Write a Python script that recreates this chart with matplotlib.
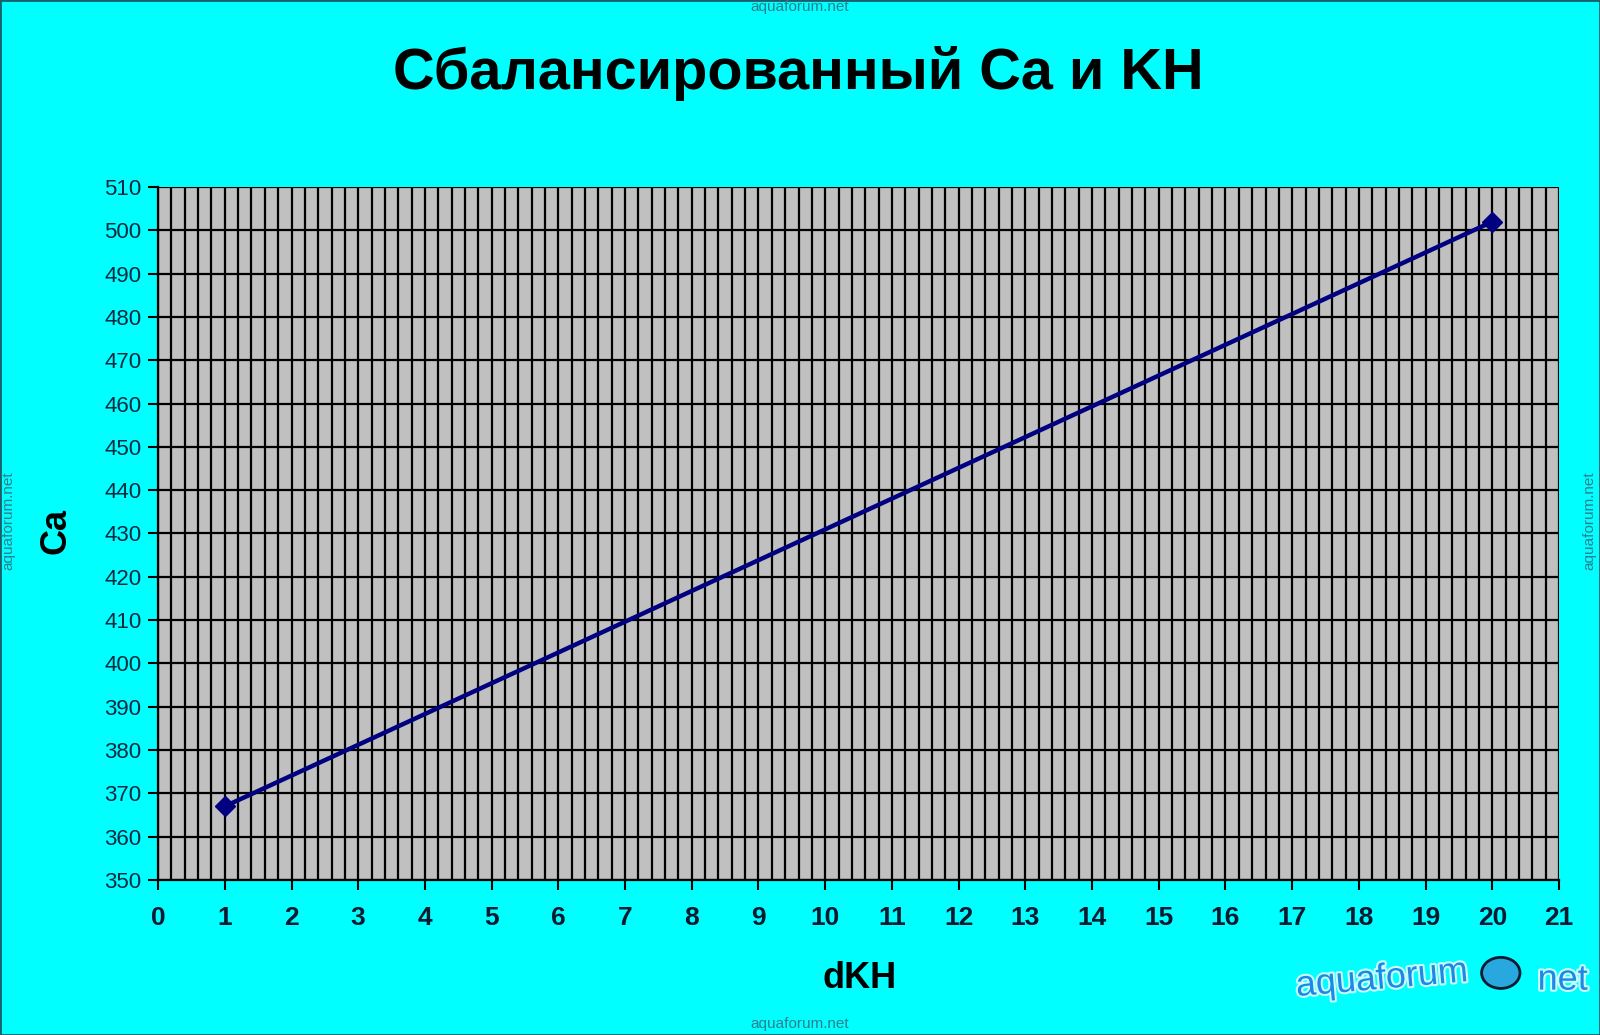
import matplotlib.pyplot as plt
import matplotlib.patheffects as pe
from matplotlib.patches import Ellipse
import numpy as np

dkh = [1, 20]
ca = [367, 502]
x_ticks = list(range(0, 22))
y_ticks = list(range(350, 511, 10))

plt.rcParams['font.family'] = ['Liberation Sans', 'DejaVu Sans']

fig = plt.figure(figsize=(16, 10.35), dpi=100, facecolor='#00FFFF')
ax = fig.add_axes([0.0988, 0.1498, 0.8756, 0.6695])
ax.set_facecolor('#C0C0C0')

# grid: vertical every 0.2, horizontal every 10
for gx in np.arange(0, 21.01, 0.2):
    ax.axvline(gx, color='black', lw=1.6, zorder=1)
for gy in y_ticks:
    ax.axhline(gy, color='black', lw=1.6, zorder=1)

ax.plot(dkh, ca, color='#000080', lw=3.2, marker='D', markersize=10, zorder=3)

ax.set_xlim(0, 21)
ax.set_ylim(350, 510)
ax.set_xticks(x_ticks)
ax.set_yticks(y_ticks)
ax.set_xticklabels([str(t) for t in x_ticks], fontsize=19, fontweight='bold',
                   color='#0a1a30')
ax.set_yticklabels([str(t) for t in y_ticks], fontsize=16, color='#0a2a40')
ax.tick_params(axis='both', direction='out', length=7, width=1.5, color='black')
ax.tick_params(axis='x', pad=12)
ax.tick_params(axis='y', pad=5)
for s in ['top', 'right']:
    ax.spines[s].set_visible(False)
for s in ['left', 'bottom']:
    ax.spines[s].set_linewidth(1.6)

fig.text(0.499, 0.929, 'Сбалансированный Ca и KH', ha='center', va='center',
         fontsize=41.5, fontweight='bold')
fig.text(0.5375, 0.055, 'dKH', ha='center', va='center', fontsize=26, fontweight='bold')
fig.text(0.035, 0.487, 'Ca', ha='center', va='center', rotation=90, fontsize=26,
         fontweight='bold')

# watermarks
wm = '#2a7f8f'
fig.text(0.5, 0.9935, 'aquaforum.net', ha='center', va='center', fontsize=11, color=wm)
fig.text(0.5, 0.0106, 'aquaforum.net', ha='center', va='center', fontsize=11, color=wm)
fig.text(0.005, 0.497, 'aquaforum.net', ha='center', va='center', fontsize=11,
         color=wm, rotation=90)
fig.text(0.9935, 0.497, 'aquaforum.net', ha='center', va='center', fontsize=11,
         color=wm, rotation=90)

# logo
glow = [pe.withStroke(linewidth=3, foreground='#c8ffff')]
fig.text(0.809, 0.054, 'aquaforum', ha='left', va='center', fontsize=26,
         color='#1e88e5', rotation=5, path_effects=glow)
fig.text(0.961, 0.053, 'net', ha='left', va='center', fontsize=26, color='#1e88e5',
         path_effects=glow)
fig.patches.append(Ellipse((0.938, 0.06), 0.024, 0.03, transform=fig.transFigure,
                           facecolor='#29a8e0', edgecolor='#0a1a30', lw=2))

# outer frame
fig.patches.append(plt.Rectangle((0, 0), 1, 1, transform=fig.transFigure, fill=False,
                                 edgecolor='#1a5f6a', lw=2))

fig.savefig('out.png', dpi=100, facecolor=fig.get_facecolor())
